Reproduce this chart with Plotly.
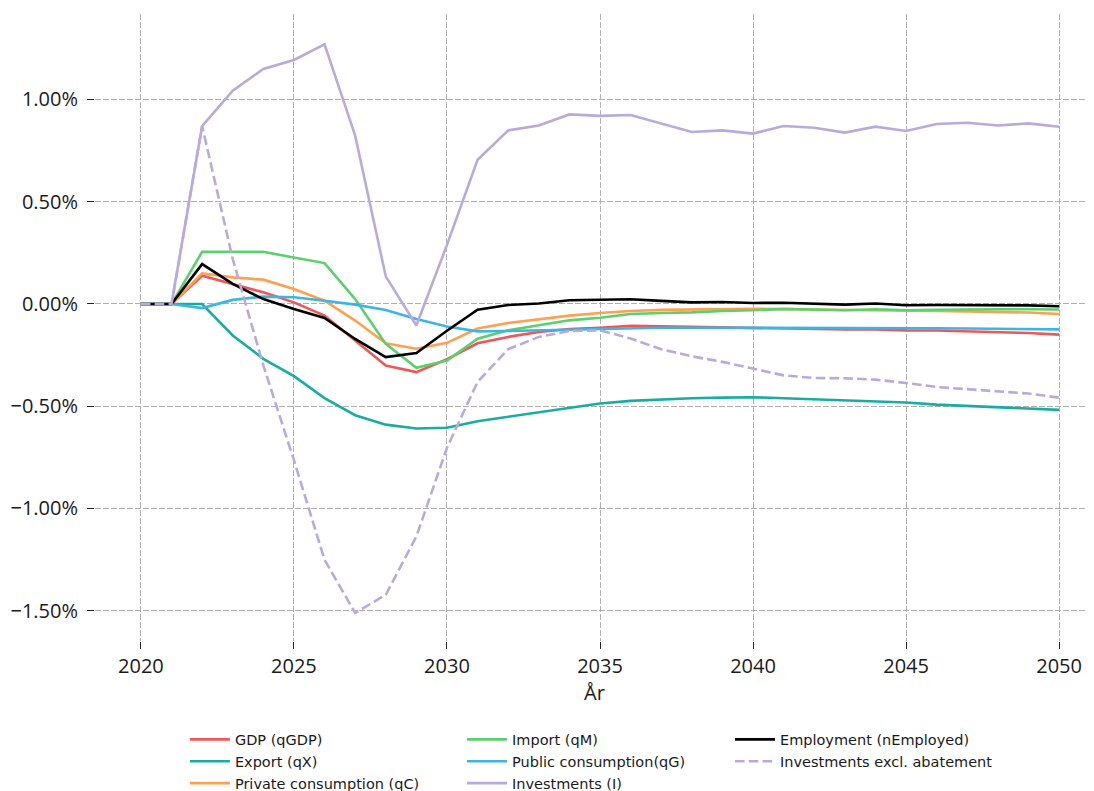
import plotly.graph_objects as go

years = list(range(2020, 2051))

gdp = [0, 0, 0.138, 0.098, 0.057, 0.008, -0.057, -0.179, -0.301, -0.333, -0.270,
       -0.192, -0.161, -0.137, -0.122, -0.116, -0.107, -0.109, -0.112, -0.116, -0.119,
       -0.120, -0.122, -0.125, -0.124, -0.129, -0.130, -0.134, -0.138, -0.142, -0.150]
export = [0, 0, 0.0, -0.154, -0.268, -0.353, -0.460, -0.544, -0.590, -0.609, -0.605,
          -0.573, -0.552, -0.531, -0.510, -0.487, -0.474, -0.466, -0.461, -0.458, -0.456,
          -0.461, -0.466, -0.471, -0.476, -0.482, -0.492, -0.498, -0.505, -0.511, -0.518]
private = [0, 0, 0.150, 0.130, 0.119, 0.073, 0.016, -0.081, -0.192, -0.219, -0.190,
           -0.120, -0.093, -0.075, -0.057, -0.044, -0.034, -0.029, -0.026, -0.024, -0.023,
           -0.026, -0.027, -0.028, -0.030, -0.031, -0.034, -0.036, -0.039, -0.042, -0.049]
imports = [0, 0, 0.255, 0.255, 0.255, 0.227, 0.200, 0.024, -0.195, -0.312, -0.277,
           -0.170, -0.129, -0.104, -0.080, -0.067, -0.049, -0.044, -0.041, -0.034, -0.031,
           -0.024, -0.026, -0.031, -0.026, -0.031, -0.028, -0.026, -0.026, -0.026, -0.027]
public = [0, 0, -0.020, 0.020, 0.036, 0.033, 0.016, -0.003, -0.029, -0.073, -0.110,
          -0.134, -0.132, -0.129, -0.125, -0.120, -0.117, -0.116, -0.116, -0.116, -0.116,
          -0.116, -0.116, -0.116, -0.117, -0.118, -0.119, -0.120, -0.121, -0.122, -0.124]
investments = [0, 0, 0.870, 1.043, 1.149, 1.193, 1.270, 0.823, 0.135, -0.105, 0.289,
               0.705, 0.849, 0.873, 0.927, 0.920, 0.924, 0.881, 0.841, 0.849, 0.833,
               0.870, 0.862, 0.838, 0.867, 0.846, 0.880, 0.886, 0.873, 0.883, 0.867]
employment = [0, 0, 0.195, 0.098, 0.024, -0.024, -0.068, -0.171, -0.260, -0.240, -0.131,
              -0.028, -0.005, 0.002, 0.018, 0.021, 0.023, 0.015, 0.008, 0.010, 0.005,
              0.006, 0.002, -0.003, 0.002, -0.006, -0.005, -0.005, -0.008, -0.007, -0.011]
inv_excl = [0, 0, 0.870, 0.220, -0.300, -0.764, -1.251, -1.511, -1.422, -1.137, -0.703,
            -0.381, -0.221, -0.161, -0.132, -0.129, -0.169, -0.221, -0.256, -0.283, -0.316,
            -0.349, -0.362, -0.363, -0.370, -0.386, -0.406, -0.417, -0.425, -0.438, -0.458]

y_ticks = [-1.5, -1.0, -0.5, 0.0, 0.5, 1.0]
y_ticktext = ["\u22121.50%", "\u22121.00%", "\u22120.50%", "0.00%", "0.50%", "1.00%"]
x_ticks = [2020, 2025, 2030, 2035, 2040, 2045, 2050]

series = [
    ("GDP (qGDP)", gdp, "#F05656", "solid", "legend"),
    ("Export (qX)", export, "#19ADA2", "solid", "legend"),
    ("Private consumption (qC)", private, "#FFA04E", "solid", "legend"),
    ("Import (qM)", imports, "#5CCF6F", "solid", "legend2"),
    ("Public consumption(qG)", public, "#3DB5E4", "solid", "legend2"),
    ("Investments (I)", investments, "#B9AADD", "solid", "legend2"),
    ("Employment (nEmployed)", employment, "#000000", "solid", "legend3"),
    ("Investments excl. abatement", inv_excl, "#B9AADD", "9.6px,4.2px", "legend3"),
]

fig = go.Figure()
for name, vals, color, dash, leg in series:
    fig.add_trace(go.Scatter(
        x=years, y=vals, name=name, mode="lines",
        line=dict(color=color, width=2.6, dash=dash),
        legend=leg,
    ))

tick_font = dict(family="Open Sans, Noto Sans, sans-serif", size=20, color="#1a1a1a")
leg_font = dict(family="DejaVu Sans, sans-serif", size=14.5, color="#1a1a1a")
leg_common = dict(orientation="v", xanchor="left", yanchor="top", font=leg_font,
                  bgcolor="rgba(0,0,0,0)", tracegroupgap=0, itemwidth=40)

# page body has an 8px margin, so the figure is offset by 8px in the screenshot
fig.update_layout(
    width=1086, height=783,
    margin=dict(l=87, r=0, t=6, b=150, autoexpand=False),
    paper_bgcolor="white", plot_bgcolor="white",
    showlegend=True,
    legend=dict(x=0.090, y=-0.1315, **leg_common),
    legend2=dict(x=0.3674, y=-0.1315, **leg_common),
    legend3=dict(x=0.6356, y=-0.1315, **leg_common),
    xaxis=dict(
        range=[2018.5, 2051.14], tickvals=x_ticks, tickfont=tick_font,
        showgrid=True, gridcolor="#b0b0b0", griddash="5.5px,2.5px", gridwidth=1.4,
        zeroline=False, showline=False, ticks="outside", ticklen=7, tickwidth=1.2,
        tickcolor="#222222", automargin=False,
        title=dict(text="År", font=tick_font, standoff=2),
    ),
    yaxis=dict(
        range=[-1.648, 1.418], tickvals=y_ticks, ticktext=y_ticktext, tickfont=tick_font,
        showgrid=True, gridcolor="#b0b0b0", griddash="5.5px,2.5px", gridwidth=1.4,
        zeroline=False, showline=False, ticks="outside", ticklen=7, tickwidth=1.2,
        tickcolor="#222222", automargin=False, ticklabelstandoff=5,
    ),
)

fig.write_html("out.html")
